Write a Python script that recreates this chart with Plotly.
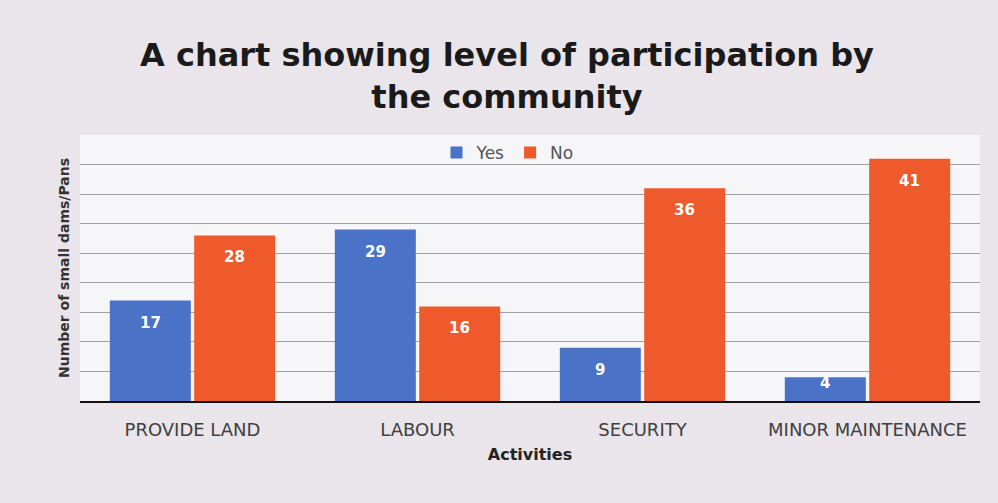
import plotly.graph_objects as go

categories = ["PROVIDE LAND", "LABOUR", "SECURITY", "MINOR MAINTENANCE"]
yes_values = [17, 29, 9, 4]
no_values = [28, 16, 36, 41]
series_names = ["Yes", "No"]
title_text = "A chart showing level of participation by<br>the community"
y_title = "Number of small dams/Pans"
x_title = "Activities"

FONT = "'DejaVu Sans', sans-serif"
W, H = 998, 503
M = dict(l=80, r=18, t=135, b=102)
Y_MAX = 45
BARGAP = 0.25
colors = ["#4a72c6", "#ef5a2c"]

fig = go.Figure()
for name, vals, col in zip(series_names, [yes_values, no_values], colors):
    fig.add_trace(go.Bar(x=categories, y=vals, name=name, marker=dict(color=col, line=dict(width=0))))

# data labels placed just inside the top of each bar (Excel "inside end" style)
plot_w = W - M["l"] - M["r"]
plot_h = H - M["t"] - M["b"]
px_per_unit = plot_h / Y_MAX
cat_w = plot_w / len(categories)
bar_w = cat_w * (1 - BARGAP) / 2
for si, vals in enumerate([yes_values, no_values]):
    xshift = (si - 0.5) * bar_w
    for cat, v in zip(categories, vals):
        bar_px = v * px_per_unit
        drop = min(22, max(bar_px - 18, 4))
        fig.add_annotation(x=cat, y=v, xref="x", yref="y", text=str(v), showarrow=False,
                           xshift=xshift, yshift=-drop, yanchor="middle",
                           font=dict(family=FONT, size=15, color="white", weight="bold"))

fig.update_layout(
    width=W, height=H,
    margin=M,
    paper_bgcolor="#e9e5ea",
    plot_bgcolor="#f6f5f7",
    barmode="group", bargap=BARGAP, bargroupgap=0.04,
    title=dict(text=title_text, x=0.508, xanchor="center", yref="container", y=1 - 66 / H, yanchor="middle",
               font=dict(family=FONT, size=32, color="#1a1a1a", weight="bold")),
    legend=dict(orientation="h", x=0.475, xanchor="center", y=1.0, yanchor="top",
                font=dict(family=FONT, size=17, color="#555555"),
                itemwidth=30, bgcolor="rgba(0,0,0,0)", traceorder="normal"),
    showlegend=True,
)
fig.update_xaxes(
    showline=True, linecolor="#111111", linewidth=2,
    tickfont=dict(family=FONT, size=18, color="#404040"),
    ticks="", ticklabelstandoff=11,
    title=dict(text=x_title, font=dict(family=FONT, size=16, color="#222222", weight="bold"), standoff=10),
)
fig.update_yaxes(
    range=[0, Y_MAX], tickmode="array", tickvals=list(range(5, Y_MAX, 5)), showticklabels=False,
    showgrid=True, gridcolor="#a2a0a2", gridwidth=1,
    zeroline=False,
    title=dict(text=y_title, font=dict(family=FONT, size=14, color="#333333", weight="bold"), standoff=6),
)

fig.write_html("out.html")
